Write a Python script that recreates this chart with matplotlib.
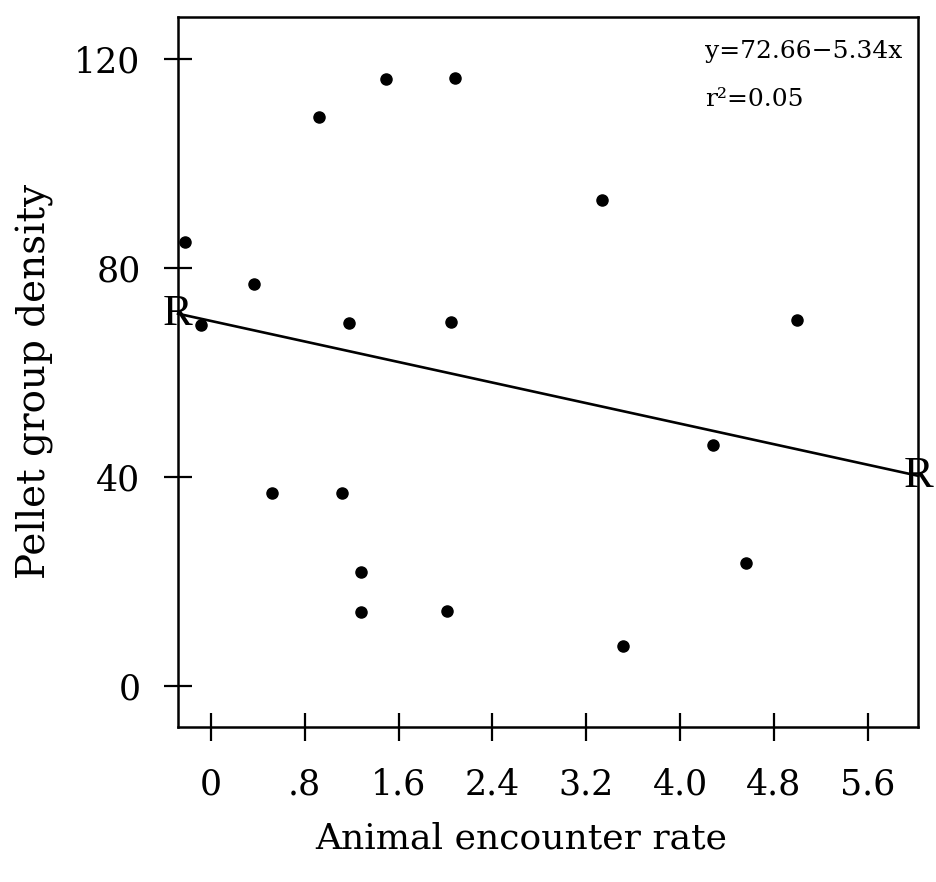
import matplotlib.pyplot as plt

plt.rcParams['font.family'] = ['DejaVu Serif']

# data
encounter_rate = [-0.22, -0.08, 0.37, 0.52, 0.92, 1.12, 1.18, 1.28, 1.28, 1.49,
                  2.01, 2.05, 2.08, 3.33, 3.51, 4.28, 4.56, 5.00]
pellet_density = [84.9, 69.0, 76.9, 36.9, 108.8, 36.9, 69.4, 21.8, 14.2, 116.1,
                  14.4, 69.6, 116.3, 92.9, 7.7, 46.1, 23.5, 70.0]

# regression line end points (as drawn in the figure)
line_x = [-0.28, 6.03]
line_y = [71.2, 40.2]

x_ticks = [0, 0.8, 1.6, 2.4, 3.2, 4.0, 4.8, 5.6]
x_tick_labels = ['0', '.8', '1.6', '2.4', '3.2', '4.0', '4.8', '5.6']
y_ticks = [0, 40, 80, 120]

fig = plt.figure(figsize=(9.37, 8.82), dpi=100)
ax = fig.add_axes([0.190, 0.176, 0.790, 0.805])

ax.plot(encounter_rate, pellet_density, 'o', color='black', markersize=8, zorder=3)
ax.plot(line_x, line_y, color='black', lw=1.9, clip_on=False)

# "R" marks at both ends of the regression line
ax.text(line_x[0], line_y[0], 'R', family='Liberation Serif', fontsize=32,
        ha='center', va='center')
ax.text(line_x[1], line_y[1], 'R', family='Liberation Serif', fontsize=32,
        ha='center', va='center')

ax.text(0.712, 0.942, 'y=72.66\u22125.34x', transform=ax.transAxes, fontsize=18)
ax.text(0.712, 0.874, 'r\u00b2=0.05', transform=ax.transAxes, fontsize=18)

ax.set_xlim(-0.28, 6.03)
ax.set_ylim(-7.8, 128)
ax.set_xticks(x_ticks)
ax.set_xticklabels(x_tick_labels)
ax.set_yticks(y_ticks)

for s in ax.spines.values():
    s.set_linewidth(1.8)
ax.tick_params(direction='inout', length=20, width=1.6, labelsize=25)
ax.tick_params(axis='x', pad=19)
ax.tick_params(axis='y', pad=17)

ax.set_xlabel('Animal encounter rate', fontsize=26)
ax.set_ylabel('Pellet group density', fontsize=28)
ax.xaxis.set_label_coords(0.464, -0.134)
ax.yaxis.set_label_coords(-0.168, 0.486)

fig.savefig('out.png', dpi=100)
